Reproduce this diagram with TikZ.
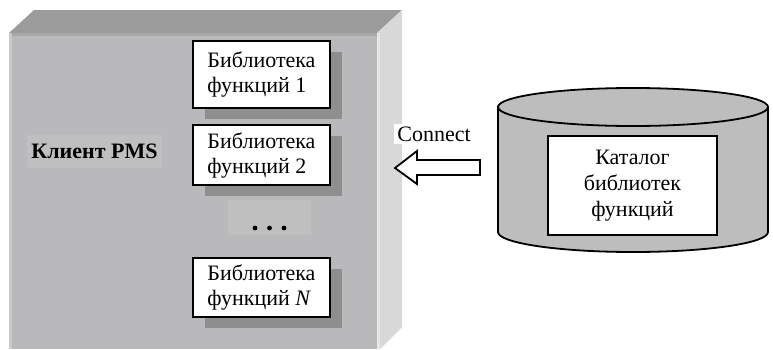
\documentclass[tikz,border=0pt]{standalone}
\usepackage{fontspec}
\setmainfont{Liberation Serif}
\usetikzlibrary{positioning,shadows}
\definecolor{topface}{HTML}{9B9B9B}
\definecolor{topedge}{HTML}{A8A8A8}
\definecolor{frontface}{HTML}{B9B9BB}
\definecolor{frontedge}{HTML}{C9C9C9}
\definecolor{sideface}{HTML}{D8D8D8}
\definecolor{sideedge}{HTML}{E6E6E6}
\definecolor{labelbg}{HTML}{BFBFBF}
\definecolor{shadowc}{HTML}{8E8E8E}
\definecolor{cylc}{HTML}{BDBDBD}
\tikzset{
  libbox/.style={draw, line width=1pt, fill=white, align=left,
    minimum width=68.5pt, inner sep=0pt,
    drop shadow={shadow xshift=6pt, shadow yshift=-5.5pt, fill=shadowc, opacity=1}},
  catbox/.style={draw, line width=0.9pt, fill=white, align=center,
    minimum width=84.5pt, minimum height=49.5pt, inner sep=0pt}
}
\begin{document}
\begin{tikzpicture}[x=0.5pt, y=-0.5pt, font=\fontsize{11}{12.5}\selectfont]
    \useasboundingbox (0,0) rectangle (773,349);
    % Client box
    \fill[topface] (9,33) -- (34,10) -- (402,10) -- (377,33) -- cycle;
    \fill[frontface] (9,33) rectangle (377,349);
    \fill[topedge] (9,33) rectangle (377,36);
    \fill[frontedge] (9,33) rectangle (12,349);
    \fill[sideface] (377,33) -- (402,10) -- (402,327) -- (380,349) -- (377,349) -- cycle;
    \fill[sideedge] (377,33) rectangle (380,349);
    \node[fill=labelbg, minimum width=67.5pt, minimum height=16.5pt, inner sep=0pt]
        (client) at (94.5,151.5) {\textbf{Клиент PMS}};

    % Libraries
    \node[libbox, minimum height=33.5pt] (lib1) at (261.5,74.5) {Библиотека\\функций 1};
    \node[libbox, minimum height=30pt] (lib2) at (261.5,155) {Библиотека\\функций 2};
    \node[fill=labelbg, minimum width=41.5pt, minimum height=17.5pt, inner sep=0pt]
        (dots) at (269.5,217.5) {};
    \foreach \dx in {-14.5,0,14.5}
        \fill ([shift={(\dx,10.5)}]dots.center) circle (1.2pt);
    \node[libbox, minimum height=29.5pt] (libN) at (261.5,287.5) {Библиотека\\функций \textit{N}};

    % Catalog
    \filldraw[fill=cylc, line width=0.9pt] (498,107) -- (498,232)
        arc[start angle=180, end angle=0, x radius=135, y radius=20] -- (768,107) -- cycle;
    \filldraw[fill=cylc, line width=0.9pt] (633,107) ellipse [x radius=135, y radius=19];
    \node[catbox, font=\fontsize{11}{13}\selectfont] (cat) at (632.5,185.5)
        {Каталог\\библиотек\\функций};

    % Connect
    \node[fill=white, inner sep=1.5pt] (conn) at (434,134) {Connect};
    \coordinate (tip) at (395,168);
    \filldraw[fill=white, line width=0.9pt] (tip) -- ++(22,-17) -- ++(0,9) -- ++(63,0)
        -- ++(0,15) -- ++(-63,0) -- ++(0,9) -- cycle;
\end{tikzpicture}
\end{document}
